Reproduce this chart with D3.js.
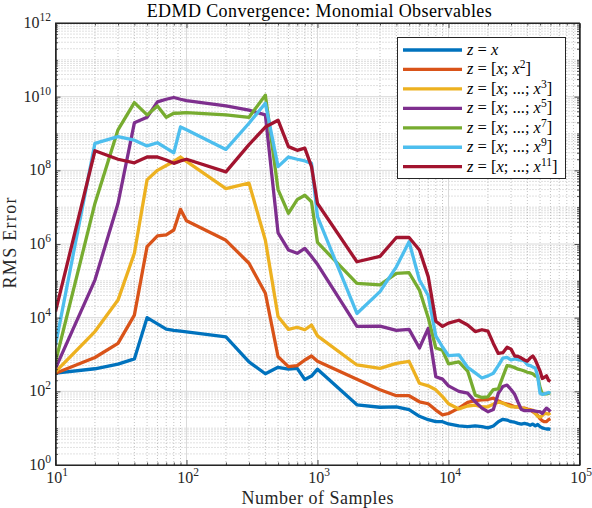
<!DOCTYPE html>
<html><head><meta charset="utf-8">
<script src="https://cdn.jsdelivr.net/npm/d3@7"></script>
<style>body{margin:0;background:#fff}svg{display:block}
text{font-family:"Liberation Serif","Times New Roman",Times,serif;}</style>
</head><body>
<svg id="c" width="592" height="508"></svg>
<script>
// ---- data ----
const samples = [10,20,30,40,50,60,70,80,90,100,
  200,300,400,500,600,700,800,900,1000,
  2000,3000,4000,5000,6000,7000,8000,9000,10000,
  12000,14000,16000,18000,20000,22000,24000,26000,28000,30000,32000,34000,36000,38000,40000,
  42000,44000,46000,48000,50000,52000,54000,56000,58000,60000];

const errDeg1 = [310,410,550,760,10000,6800,4900,4500,4300,4100,
  3000,630,300,450,400,420,210,260,400,
  43,37,38,32,21,17,15,15,13,
  11.5,11,11.5,11,10.2,11.5,15,17.4,16.6,15,14.5,13.5,12.9,13.5,12.9,
  12,12.9,11.5,12.6,11,10.2,9.8,9.5,9.5,9.3];

const errDeg2 = [310,830,2000,11700,8.5e5,1.66e6,1.78e6,2.4e6,8.7e6,4.3e6,
  1.26e6,3.0e5,4.6e4,870,470,500,710,910,660,
  214,110,76,76,52,46,31,23,25,
  35,50,56,59,60,65,55,48,45,42,38,38,35,35,33,
  32,28,25,22,18,16,15,15,17,18];

const errDeg3 = [340,4200,30000,5.6e5,5.5e7,1.0e8,1.35e8,1.74e8,2.3e8,1.74e8,
  3.2e7,4.5e7,1.26e6,10700,4800,5500,4700,6300,3200,
  520,420,575,650,166,141,110,72,46,
  33,40,42,38,38,45,51,48,42,38,38,38,35,34,32,
  31,31,25,21,20,22,25,25,24,26];

const errDeg5 = [420,1.05e5,1.26e7,1.95e9,2.75e9,7.2e9,8.5e9,9.5e9,8.5e9,7.8e9,
  5.6e9,4.3e9,3.2e9,2.0e6,6.9e5,5.6e5,7.6e5,4.6e5,2.8e5,
  5800,5900,4500,4800,1500,5100,250,214,141,
  100,89,52,35,28,32,89,135,148,112,83,50,32,30,30,
  30,30,29,28,28,25,30,35,32,28];

const errDeg7 = [630,1.26e7,1.26e9,6.9e9,3.2e9,5.6e9,2.75e9,3.55e9,3.6e9,3.7e9,
  3.2e9,2.75e9,1.1e10,3.0e7,6.8e6,1.6e7,2.1e7,1.4e7,1.1e6,
  85000,78000,1.6e5,1.66e5,56000,10000,1500,1300,560,
  630,355,79,68,71,112,117,250,500,480,440,400,380,355,330,
  316,300,263,250,126,85,85,85,89,89];

const errDeg9 = [1800,5.4e8,8.2e8,6.6e8,4.6e8,5.6e8,4.0e8,3.0e8,1.5e9,1.26e9,
  3.7e8,1.9e9,6.6e9,1.26e8,2.3e8,2.0e8,1.8e8,1.55e8,5.5e6,
  13000,51000,2.4e5,1.15e6,1.05e5,40000,3200,1600,930,
  980,450,316,230,263,310,500,800,830,710,760,720,710,660,525,
  500,460,430,250,89,83,85,89,93,89];

const errDeg11 = [14500,3.4e8,2.0e8,1.6e8,2.3e8,2.3e8,1.9e8,1.55e8,1.8e8,2.0e8,
  9.1e7,5.0e8,1.5e9,2.3e9,4.4e8,3.5e8,4.0e8,1.26e8,1.26e7,
  3.3e5,4.6e5,1.5e6,1.5e6,6.9e5,1.3e5,8000,5800,7100,
  8500,6300,4200,4700,4300,2000,1070,1120,1580,1400,910,890,800,710,660,
  800,910,710,500,355,224,240,263,200,186];

const seriesValues = [errDeg1, errDeg2, errDeg3, errDeg5, errDeg7, errDeg9, errDeg11];
const legendExponents = [null, "2", "3", "5", "7", "9", "11"];
const seriesColors = ["#0072BD","#D95319","#EDB120","#7E2F8E","#77AC30","#4DBEEE","#A2142F"];

const xMajorTicks = [1e1,1e2,1e3,1e4,1e5];
const xTickExponents = ["1","2","3","4","5"];
const yMajorTicks = [1e0,1e2,1e4,1e6,1e8,1e10,1e12];
const yTickExponents = ["0","2","4","6","8","10","12"];

const titleText = "EDMD Convergence: Monomial Observables";
const xLabelText = "Number of Samples";
const yLabelText = "RMS Error";

// ---- layout ----
const L = 55.5, R = 579.5, T = 23, B = 465;
const AX = "#262626";

const svg = d3.select("#c");
const x = d3.scaleLog().domain([10, 1e5]).range([L, R]);
const y = d3.scaleLog().domain([1, 1e12]).range([B, T]);

svg.append("rect").attr("width",592).attr("height",508).attr("fill","#fff");

const xMinor = [];
for (let e = 1; e < 5; e++) for (let m = 2; m <= 9; m++) xMinor.push(m * Math.pow(10, e));
const yMinor = [];
for (let e = 0; e < 12; e++) for (let m = 1; m <= 9; m++) {
  if (m === 1 && e % 2 === 0) continue;
  yMinor.push(m * Math.pow(10, e));
}

const grid = svg.append("g");
grid.selectAll(".gxm").data(xMinor).join("line")
  .attr("x1", d => x(d)).attr("x2", d => x(d)).attr("y1", T).attr("y2", B)
  .attr("stroke", "#a8a8a8").attr("stroke-width", 0.7).attr("stroke-dasharray", "1,2");
grid.selectAll(".gym").data(yMinor).join("line")
  .attr("y1", d => y(d)).attr("y2", d => y(d)).attr("x1", L).attr("x2", R)
  .attr("stroke", "#a8a8a8").attr("stroke-width", 0.7).attr("stroke-dasharray", "1,2");
grid.selectAll(".gx").data(xMajorTicks).join("line")
  .attr("x1", d => x(d)).attr("x2", d => x(d)).attr("y1", T).attr("y2", B)
  .attr("stroke", "#dadada").attr("stroke-width", 1);
grid.selectAll(".gy").data(yMajorTicks).join("line")
  .attr("y1", d => y(d)).attr("y2", d => y(d)).attr("x1", L).attr("x2", R)
  .attr("stroke", "#dadada").attr("stroke-width", 1);

svg.append("clipPath").attr("id","clip").append("rect")
  .attr("x", L).attr("y", T).attr("width", R - L).attr("height", B - T);
const line = d3.line().x(d => x(d[0])).y(d => y(d[1]));
const lines = svg.append("g").attr("clip-path", "url(#clip)");
seriesValues.forEach((vals, i) => {
  lines.append("path")
    .datum(samples.map((n, k) => [n, vals[k]]))
    .attr("d", line).attr("fill", "none")
    .attr("stroke", seriesColors[i]).attr("stroke-width", 3.3)
    .attr("stroke-linejoin", "round").attr("stroke-linecap", "butt");
});

function styleAxis(g) {
  g.select(".domain").attr("stroke", AX).attr("stroke-width", 1);
  g.selectAll(".tick line").attr("stroke", AX).attr("stroke-width", 0.8);
  g.selectAll(".tick text").remove();
}
svg.append("g").attr("transform", `translate(0,${B})`)
  .call(d3.axisBottom(x).tickValues(xMajorTicks).tickSize(-5).tickSizeOuter(0).tickFormat("")).call(styleAxis);
svg.append("g").attr("transform", `translate(0,${B})`)
  .call(d3.axisBottom(x).tickValues(xMinor).tickSize(-2.5).tickSizeOuter(0).tickFormat("")).call(styleAxis);
svg.append("g").attr("transform", `translate(0,${T})`)
  .call(d3.axisTop(x).tickValues(xMajorTicks).tickSize(-5).tickSizeOuter(0).tickFormat("")).call(styleAxis);
svg.append("g").attr("transform", `translate(0,${T})`)
  .call(d3.axisTop(x).tickValues(xMinor).tickSize(-2.5).tickSizeOuter(0).tickFormat("")).call(styleAxis);
svg.append("g").attr("transform", `translate(${L},0)`)
  .call(d3.axisLeft(y).tickValues(yMajorTicks).tickSize(-5).tickSizeOuter(0).tickFormat("")).call(styleAxis);
svg.append("g").attr("transform", `translate(${L},0)`)
  .call(d3.axisLeft(y).tickValues(yMinor).tickSize(-2.5).tickSizeOuter(0).tickFormat("")).call(styleAxis);
svg.append("g").attr("transform", `translate(${R},0)`)
  .call(d3.axisRight(y).tickValues(yMajorTicks).tickSize(-5).tickSizeOuter(0).tickFormat("")).call(styleAxis);
svg.append("g").attr("transform", `translate(${R},0)`)
  .call(d3.axisRight(y).tickValues(yMinor).tickSize(-2.5).tickSizeOuter(0).tickFormat("")).call(styleAxis);
svg.append("rect").attr("x", L).attr("y", T).attr("width", R - L).attr("height", B - T)
  .attr("fill", "none").attr("stroke", AX).attr("stroke-width", 1);

function pow10(sel, exp) {
  sel.append("tspan").text("10");
  sel.append("tspan").attr("dy", -7).attr("font-size", 11.5).text(exp);
}
xMajorTicks.forEach((v, i) => {
  svg.append("text").attr("x", x(v) + 1.5).attr("y", 482.5).attr("text-anchor", "middle")
    .attr("font-size", 16).attr("fill", AX)
    .call(pow10, xTickExponents[i]);
});
yMajorTicks.forEach((v, i) => {
  svg.append("text").attr("x", 51).attr("y", y(v) + 5).attr("text-anchor", "end")
    .attr("font-size", 16).attr("fill", AX)
    .call(pow10, yTickExponents[i]);
});

svg.append("text").attr("x", 319.2).attr("y", 16.7).attr("text-anchor", "middle")
  .attr("font-size", 18).attr("fill", "#000")
  .attr("textLength", 345).attr("lengthAdjust", "spacing").text(titleText);
svg.append("text").attr("x", 317.5).attr("y", 504.3).attr("text-anchor", "middle")
  .attr("font-size", 18).attr("fill", AX)
  .attr("textLength", 152).attr("lengthAdjust", "spacing").text(xLabelText);
svg.append("text").attr("transform", `translate(15.5,243) rotate(-90)`).attr("text-anchor", "middle")
  .attr("font-size", 18).attr("fill", AX)
  .attr("textLength", 91).attr("lengthAdjust", "spacing").text(yLabelText);

const lg = svg.append("g");
lg.append("rect").attr("x", 397.5).attr("y", 37.5).attr("width", 168).attr("height", 141)
  .attr("fill", "#fff").attr("stroke", AX).attr("stroke-width", 1);
legendExponents.forEach((ex, i) => {
  const yy = 50 + i * 19.45;
  lg.append("line").attr("x1", 403).attr("x2", 462).attr("y1", yy).attr("y2", yy)
    .attr("stroke", seriesColors[i]).attr("stroke-width", 3.3);
  const t = lg.append("text").attr("x", 467).attr("y", yy + 5)
    .attr("font-size", 16.5).attr("fill", "#000");
  t.append("tspan").attr("font-style", "italic").text("z");
  t.append("tspan").text(" = ");
  if (ex === null) {
    t.append("tspan").attr("font-style", "italic").text("x");
  } else {
    t.append("tspan").text("[");
    t.append("tspan").attr("font-style", "italic").text("x");
    t.append("tspan").text(ex === "2" ? "; " : "; ...; ");
    t.append("tspan").attr("font-style", "italic").text("x");
    t.append("tspan").attr("dy", -6).attr("font-size", 11.5).text(ex);
    t.append("tspan").attr("dy", 6).attr("font-size", 16.5).text("]");
  }
});
</script>
</body></html>
